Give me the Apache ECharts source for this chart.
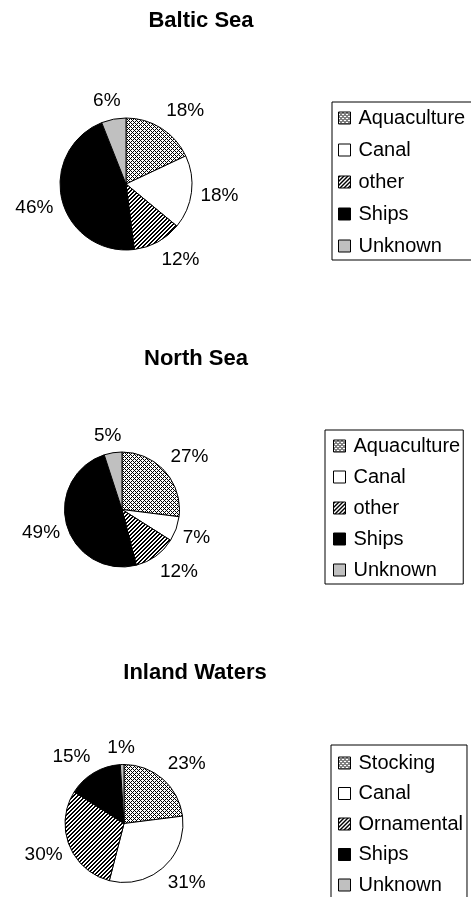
<!DOCTYPE html>
<html><head><meta charset="utf-8">
<script src="https://cdn.jsdelivr.net/npm/echarts@6/dist/echarts.min.js"></script>
<style>html,body{margin:0;padding:0;background:#fff}#c{width:471px;height:897px}</style>
</head><body><div id="c"></div>
<script>
// ---- data ----
const balticCategories = ['Aquaculture', 'Canal', 'other', 'Ships', 'Unknown'];
const balticValues = [18, 18, 12, 46, 6];
const northCategories = ['Aquaculture', 'Canal', 'other', 'Ships', 'Unknown'];
const northValues = [27, 7, 12, 49, 5];
const inlandCategories = ['Stocking', 'Canal', 'Ornamental', 'Ships', 'Unknown'];
const inlandValues = [23, 31, 30, 15, 1];
const chartTitles = ['Baltic Sea', 'North Sea', 'Inland Waters'];

// ---- styles ----
const FONT = "'Liberation Sans', Arial, sans-serif";
const LABEL_SIZE = 19;

function makeTile(rows) {
  const h = rows.length, w = rows[0].length;
  const c = document.createElement('canvas');
  c.width = w; c.height = h;
  const ctx = c.getContext('2d');
  ctx.fillStyle = '#fff'; ctx.fillRect(0, 0, w, h);
  ctx.fillStyle = '#000';
  for (let y = 0; y < h; y++) for (let x = 0; x < w; x++) if (rows[y][x] === 'X') ctx.fillRect(x, y, 1, 1);
  return { image: c, repeat: 'repeat' };
}
const dotsFill = makeTile(['X...X...', '.X.X.X.X', '..X...X.', '.X.X.X.X']);
const stripeFill = makeTile(['XX..', 'X..X', '..XX', '.XX.']);
const fills = [dotsFill, '#ffffff', stripeFill, '#000000', '#c0c0c0'];

const measureCtx = document.createElement('canvas').getContext('2d');
measureCtx.font = LABEL_SIZE + 'px ' + FONT;

const layouts = [
  { cats: balticCategories, vals: balticValues, titleX: 201, titleY: 21, cx: 126, cy: 184, r: 66, gap: 6,
    legendLeft: 332, legendTop: 102, legendPad: [6, 9, 4, 6], itemGap: 12 },
  { cats: northCategories, vals: northValues, titleX: 196, titleY: 359, cx: 122, cy: 509.5, r: 57.5, gap: 4,
    legendLeft: 325, legendTop: 430, legendPad: [6, 3, 4, 8], itemGap: 11 },
  { cats: inlandCategories, vals: inlandValues, titleX: 195, titleY: 673, cx: 124, cy: 823.5, r: 59, gap: 4,
    legendLeft: 331, legendTop: 745, legendPad: [8, 4, 6, 7], itemGap: 10.5 }
];

function clamp(v) { return Math.max(-1, Math.min(1, v)); }

const title = [], legend = [], series = [];
layouts.forEach((L, k) => {
  title.push({
    text: chartTitles[k], left: L.titleX, top: L.titleY, padding: 0,
    textAlign: 'center', textVerticalAlign: 'middle',
    textStyle: { fontFamily: FONT, fontSize: 22, fontWeight: 'bold', color: '#000' }
  });
  legend.push({
    data: L.cats, orient: 'vertical', left: L.legendLeft, top: L.legendTop, height: 300,
    padding: L.legendPad, itemGap: L.itemGap, itemWidth: 12, itemHeight: 12,
    icon: 'rect', selectedMode: false,
    borderColor: '#000', borderWidth: 1, borderRadius: 0,
    itemStyle: { borderColor: '#000', borderWidth: 1 },
    textStyle: { fontFamily: FONT, fontSize: 20, color: '#000', padding: [0, 0, 0, 3] }
  });
  const total = L.vals.reduce((a, b) => a + b, 0);
  series.push({
    type: 'pie', center: [L.cx, L.cy], radius: [0, L.r], startAngle: 90, clockwise: true,
    silent: true, label: { show: false }, labelLine: { show: false },
    itemStyle: { borderColor: '#000', borderWidth: 1 },
    data: L.cats.map((n, i) => ({ name: n, value: L.vals[i], itemStyle: { color: fills[i] } }))
  });
  // label ring: same values, transparent; labels pushed outward like the source's outside labels
  let cum = 0;
  const labelData = L.cats.map((n, i) => {
    const v = L.vals[i];
    const th = 2 * Math.PI * (cum + v / 2) / total;
    cum += v;
    const dx = Math.sin(th), dy = -Math.cos(th);
    const hw = measureCtx.measureText(v + '%').width / 2, hh = 10;
    const sx = hw * clamp(2 * dx), sy = hh * clamp(2 * dy);
    const pad = [sy > 0 ? 2 * sy : 0, sx < 0 ? -2 * sx : 0, sy < 0 ? -2 * sy : 0, sx > 0 ? 2 * sx : 0];
    return { name: n, value: v, label: { padding: pad } };
  });
  series.push({
    type: 'pie', center: [L.cx, L.cy], radius: [L.r + L.gap - 0.5, L.r + L.gap + 0.5],
    startAngle: 90, clockwise: true, silent: true,
    itemStyle: { color: 'rgba(0,0,0,0)', borderWidth: 0 },
    emphasis: { disabled: true },
    label: {
      show: true, position: 'inside',
      formatter: p => '{t|' + p.value + '%}',
      rich: { t: { fontFamily: FONT, fontSize: LABEL_SIZE, color: '#000' } }
    },
    labelLine: { show: false },
    data: labelData
  });
});

const chart = echarts.init(document.getElementById('c'), null, { renderer: 'canvas' });
chart.setOption({ animation: false, backgroundColor: '#fff', title, legend, series });
</script>
</body></html>
